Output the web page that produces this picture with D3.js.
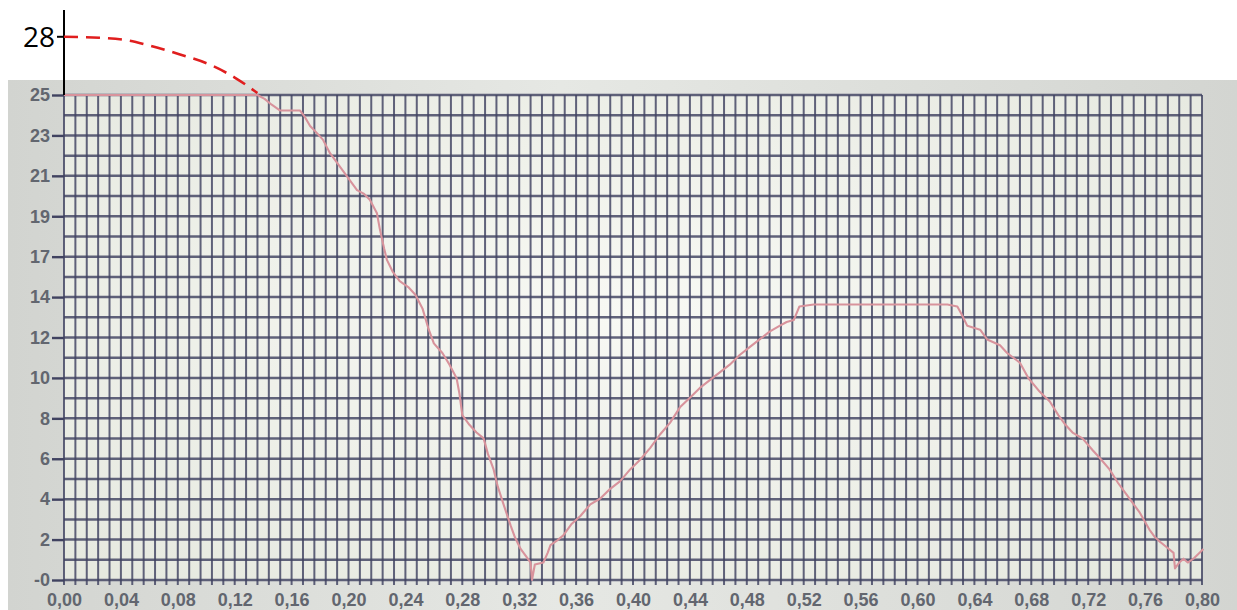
<!DOCTYPE html>
<head>
    <meta charset="utf-8">
    <title>Messkurve</title>
    <style>
        body { margin: 0; background: #fff; }
        svg { display: block; }
    </style>
</head>
<body>

<svg width="1237" height="610"></svg>

<script src="https://d3js.org/d3.v7.min.js"></script>

<script>

// tick labels as printed on the screen shot
var xTickValues = [0.00, 0.04, 0.08, 0.12, 0.16, 0.20, 0.24, 0.28, 0.32, 0.36, 0.40,
                   0.44, 0.48, 0.52, 0.56, 0.60, 0.64, 0.68, 0.72, 0.76, 0.80];
var xTickLabels = ['0,00', '0,04', '0,08', '0,12', '0,16', '0,20', '0,24', '0,28', '0,32', '0,36', '0,40',
                   '0,44', '0,48', '0,52', '0,56', '0,60', '0,64', '0,68', '0,72', '0,76', '0,80'];
var yTickValues = [0, 2.083, 4.167, 6.25, 8.333, 10.417, 12.5, 14.583, 16.667, 18.75, 20.833, 22.917, 25];
var yTickLabels = ['-0', '2', '4', '6', '8', '10', '12', '14', '17', '19', '21', '23', '25'];

// measured trace (time, value)
var traceT = [0, 0.136, 0.141, 0.146, 0.152, 0.166, 0.169, 0.173, 0.177, 0.182, 0.187, 0.191, 0.196,
    0.201, 0.206, 0.211, 0.215, 0.220, 0.222, 0.225, 0.227, 0.231, 0.236, 0.242, 0.247, 0.252, 0.256,
    0.260, 0.266, 0.271, 0.276, 0.278, 0.280, 0.285, 0.290, 0.295, 0.298, 0.302, 0.305, 0.309, 0.314,
    0.317, 0.321, 0.325, 0.328, 0.329, 0.331, 0.337, 0.340, 0.342, 0.346, 0.351, 0.357, 0.363, 0.370,
    0.377, 0.384, 0.391, 0.398, 0.405, 0.412, 0.419, 0.426, 0.433, 0.440, 0.447, 0.454, 0.461, 0.468,
    0.475, 0.482, 0.489, 0.496, 0.503, 0.508, 0.513, 0.517, 0.527, 0.621, 0.628, 0.631, 0.635, 0.644,
    0.649, 0.658, 0.663, 0.672, 0.678, 0.686, 0.693, 0.699, 0.704, 0.709, 0.716, 0.723, 0.728, 0.735,
    0.741, 0.747, 0.752, 0.756, 0.763, 0.767, 0.770, 0.775, 0.780, 0.781, 0.784, 0.787, 0.790, 0.794, 0.801];
var traceV = [25.0, 25.0, 24.8, 24.5, 24.2, 24.2, 23.9, 23.4, 23.1, 22.7, 22.0, 21.6, 21.1,
    20.6, 20.1, 19.9, 19.6, 18.9, 18.1, 17.1, 16.5, 15.9, 15.4, 15.1, 14.7, 14.0, 13.0,
    12.2, 11.7, 11.1, 10.4, 9.6, 8.5, 8.0, 7.6, 7.3, 6.5, 5.7, 4.8, 3.9, 2.8,
    2.2, 1.6, 1.2, 0.9, 0.0, 0.8, 0.9, 1.4, 1.8, 2.0, 2.3, 2.9, 3.3, 3.9,
    4.2, 4.7, 5.1, 5.7, 6.2, 6.8, 7.5, 8.1, 8.9, 9.4, 9.9, 10.3, 10.7, 11.1,
    11.6, 12.0, 12.4, 12.8, 13.1, 13.3, 13.4, 14.1, 14.2, 14.2, 14.1, 13.7, 13.1, 12.9,
    12.4, 12.1, 11.7, 11.2, 10.4, 9.7, 9.2, 8.5, 8.0, 7.6, 7.3, 6.7, 6.3, 5.7,
    5.0, 4.4, 3.9, 3.5, 2.6, 2.2, 2.0, 1.7, 1.4, 0.6, 0.9, 1.1, 0.9, 1.1, 1.6];

// drawn-in extrapolation up to 28
var extraT = [0, 0.025, 0.046, 0.060, 0.081, 0.103, 0.120, 0.136];
var extraV = [28, 27.95, 27.8, 27.55, 27.1, 26.55, 25.9, 25.1];
var extraTick = 28;

var svg = d3.select('svg'),
    width = +svg.attr('width'),
    height = +svg.attr('height');

var x = d3.scaleLinear().domain([0, 0.8]).range([64, 1202]);
var y = d3.scaleLinear().domain([0, 25]).range([580, 95]);

// photo background
var defs = svg.append('defs');
var bg = defs.append('linearGradient').attr('id', 'paper')
    .attr('x1', 0).attr('x2', 1).attr('y1', 0).attr('y2', 0);
bg.append('stop').attr('offset', '0%').attr('stop-color', '#d2d4d0');
bg.append('stop').attr('offset', '45%').attr('stop-color', '#e6e8e4');
bg.append('stop').attr('offset', '100%').attr('stop-color', '#d3d5d1');

var cells = defs.append('radialGradient').attr('id', 'cells')
    .attr('cx', 0.5).attr('cy', 0.45).attr('r', 0.7);
cells.append('stop').attr('offset', '0%').attr('stop-color', '#f8f9f4');
cells.append('stop').attr('offset', '100%').attr('stop-color', '#e6e9e0');

svg.append('rect')
    .attr('x', 8).attr('y', 80)
    .attr('width', width - 8).attr('height', height - 80)
    .attr('fill', 'url(#paper)');

svg.append('rect')
    .attr('x', x(0)).attr('y', y(25))
    .attr('width', x(0.8) - x(0)).attr('height', y(0) - y(25))
    .attr('fill', 'url(#cells)');

// grid: every 0.008 s horizontally, 24 rows vertically
var gridX = d3.range(0, 101).map(i => i * 0.008),
    gridY = d3.range(0, 25).map(i => i * 25 / 24);

var grid = svg.append('g').attr('stroke', '#404260').attr('stroke-opacity', 0.82);

grid.selectAll('.vx')
    .data(gridX)
    .enter().append('line')
        .attr('x1', d => x(d)).attr('x2', d => x(d))
        .attr('y1', y(25)).attr('y2', y(0) + 5)
        .attr('stroke-width', 2);

grid.selectAll('.hy')
    .data(gridY)
    .enter().append('line')
        .attr('x1', x(0)).attr('x2', x(0.8))
        .attr('y1', d => y(d)).attr('y2', d => y(d))
        .attr('stroke-width', 2.5);

// y axis labels
var yAxis = svg.append('g')
    .attr('transform', `translate(${x(0)},0)`)
    .call(d3.axisLeft(y).tickValues(yTickValues)
        .tickFormat((d, i) => yTickLabels[i]).tickSize(12).tickPadding(2));
yAxis.select('.domain').remove();
yAxis.selectAll('line').attr('stroke', '#404260').attr('stroke-width', 2.4);
yAxis.selectAll('text')
    .attr('fill', '#62666f')
    .style('font', 'bold 18px "Liberation Sans", Arial, sans-serif');

// x axis labels
var xAxis = svg.append('g')
    .attr('transform', `translate(0,${y(0)})`)
    .call(d3.axisBottom(x).tickValues(xTickValues)
        .tickFormat((d, i) => xTickLabels[i]).tickSize(0).tickPadding(13));
xAxis.select('.domain').remove();
xAxis.selectAll('text')
    .attr('fill', '#62666f')
    .style('font', 'bold 18px "Liberation Sans", Arial, sans-serif');

// measured trace
var line = d3.line()
    .x(d => x(d[0]))
    .y(d => y(d[1]));

svg.append('path')
    .datum(traceT.map((t, i) => [t, traceV[i]]))
    .attr('d', line)
    .attr('fill', 'none')
    .attr('stroke', '#d8939c')
    .attr('stroke-width', 2.1)
    .attr('stroke-linejoin', 'round');

// annotation: axis extended to 28 and dashed red curve
svg.append('line')
    .attr('x1', x(0)).attr('x2', x(0))
    .attr('y1', 10).attr('y2', y(25))
    .attr('stroke', '#000').attr('stroke-width', 2);

svg.append('line')
    .attr('x1', x(0) - 7).attr('x2', x(0))
    .attr('y1', y(extraTick)).attr('y2', y(extraTick))
    .attr('stroke', '#000').attr('stroke-width', 2);

svg.append('text')
    .attr('x', x(0) - 9).attr('y', y(extraTick))
    .attr('dy', '0.36em')
    .attr('text-anchor', 'end')
    .style('font', '28px "Open Sans", sans-serif')
    .text(extraTick);

svg.append('path')
    .datum(extraT.map((t, i) => [t, extraV[i]]))
    .attr('d', line.curve(d3.curveMonotoneX))
    .attr('fill', 'none')
    .attr('stroke', '#e01e1e')
    .attr('stroke-width', 2.6)
    .attr('stroke-dasharray', '14,8');

</script>

</body>
